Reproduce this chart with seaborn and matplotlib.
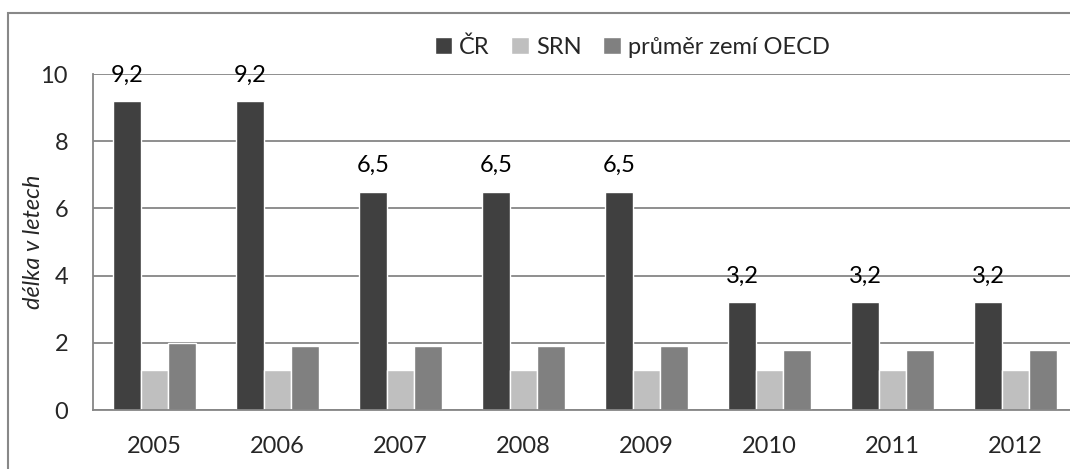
import matplotlib
matplotlib.use('Agg')
import matplotlib.pyplot as plt
import pandas as pd
import seaborn as sns
from matplotlib.patches import Rectangle
from matplotlib.ticker import FixedLocator

# data
roky = ['2005', '2006', '2007', '2008', '2009', '2010', '2011', '2012']
cr = [9.2, 9.2, 6.5, 6.5, 6.5, 3.2, 3.2, 3.2]
srn = [1.2, 1.2, 1.2, 1.2, 1.2, 1.2, 1.2, 1.2]
oecd = [2.0, 1.9, 1.9, 1.9, 1.9, 1.8, 1.8, 1.8]
serie = ['ČR', 'SRN', 'průměr zemí OECD']
barvy = ['#404040', '#bfbfbf', '#808080']

df = pd.DataFrame({
   'rok': roky * 3,
   'hodnota': cr + srn + oecd,
   'ukazatel': [s for s in serie for _ in roky],
})

sns.set_style('white')
plt.rcParams['font.family'] = ['Lato', 'DejaVu Sans']
fs = 17

fig = plt.figure(figsize=(10.70, 4.69), dpi=100)
ax = fig.add_axes([93 / 1070, 1 - 410 / 469, 984 / 1070, 336 / 469])

sns.barplot(data=df, x='rok', y='hodnota', hue='ukazatel', palette=barvy,
            width=0.67, ax=ax, saturation=1)

# popisky hodnot jen nad ČR
ax.bar_label(ax.containers[0], labels=[f'{v:.1f}'.replace('.', ',') for v in cr],
             padding=11, fontsize=fs, color='#000000')

ax.set_xlim(-0.5, 7.5)
ax.set_ylim(0, 10)
ax.set_yticks([0, 2, 4, 6, 8, 10])
ax.yaxis.grid(True, color='#868686', linewidth=1.3)
ax.set_axisbelow(True)

for side in ['top', 'right']:
   ax.spines[side].set_visible(False)
for side in ['left', 'bottom']:
   ax.spines[side].set_color('#868686')
   ax.spines[side].set_linewidth(1.3)

ax.tick_params(axis='x', which='major', length=0, pad=19, labelsize=fs)
ax.xaxis.set_minor_locator(FixedLocator([i - 0.5 for i in range(len(roky) + 1)]))
ax.tick_params(axis='x', which='minor', length=7, width=1.3, color='#868686', direction='out')
ax.tick_params(axis='y', length=7, width=1.3, color='#868686', direction='out', pad=11, labelsize=fs)

ax.set_xlabel('')
ax.set_ylabel('délka v letech', fontsize=fs, style='italic', va='center')
ax.yaxis.set_label_coords((33 - 93) / 984, 0.5)

ax.legend(loc='center', bbox_to_anchor=(632 / 1070, 1 - 47 / 469), bbox_transform=fig.transFigure,
          ncol=3, frameon=False, fontsize=fs, handlelength=0.75, handleheight=0.75,
          handletextpad=0.3, columnspacing=0.9)

# ramecek grafu
fig.patches.append(Rectangle((8 / 1070, -0.05), 1.1, 1 - 13 / 469 + 0.05, transform=fig.transFigure,
                             fill=False, edgecolor='#888888', linewidth=1.5))

fig.savefig('out.png', dpi=100)
